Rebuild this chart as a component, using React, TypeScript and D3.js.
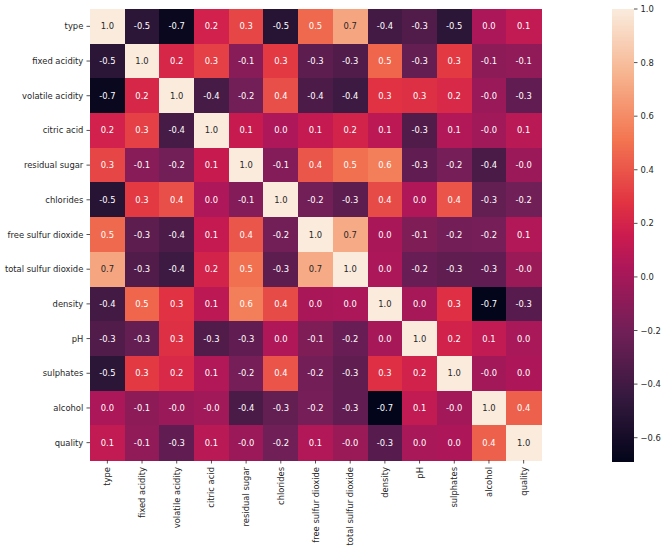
import React from "react";
import * as d3 from "d3";

const labels = [
  "type",
  "fixed acidity",
  "volatile acidity",
  "citric acid",
  "residual sugar",
  "chlorides",
  "free sulfur dioxide",
  "total sulfur dioxide",
  "density",
  "pH",
  "sulphates",
  "alcohol",
  "quality",
];

// correlation matrix rows
const rowType = [1.0, -0.487, -0.653, 0.187, 0.349, -0.513, 0.471, 0.7, -0.391, -0.329, -0.487, 0.033, 0.119];
const rowFixed = [-0.487, 1.0, 0.219, 0.324, -0.112, 0.298, -0.283, -0.329, 0.459, -0.253, 0.3, -0.095, -0.077];
const rowVolatile = [-0.653, 0.219, 1.0, -0.378, -0.196, 0.377, -0.353, -0.414, 0.271, 0.261, 0.226, -0.038, -0.266];
const rowCitric = [0.187, 0.324, -0.378, 1.0, 0.142, 0.039, 0.133, 0.195, 0.096, -0.33, 0.056, -0.01, 0.086];
const rowSugar = [0.349, -0.112, -0.196, 0.142, 1.0, -0.129, 0.403, 0.495, 0.553, -0.267, -0.186, -0.359, -0.037];
const rowChlorides = [-0.513, 0.298, 0.377, 0.039, -0.129, 1.0, -0.195, -0.28, 0.363, 0.045, 0.396, -0.257, -0.201];
const rowFree = [0.471, -0.283, -0.353, 0.133, 0.403, -0.195, 1.0, 0.721, 0.026, -0.146, -0.188, -0.18, 0.055];
const rowTotal = [0.7, -0.329, -0.414, 0.195, 0.495, -0.28, 0.721, 1.0, 0.032, -0.238, -0.275, -0.266, -0.041];
const rowDensity = [-0.391, 0.459, 0.271, 0.096, 0.553, 0.363, 0.026, 0.032, 1.0, 0.012, 0.259, -0.687, -0.306];
const rowPH = [-0.329, -0.253, 0.261, -0.33, -0.267, 0.045, -0.146, -0.238, 0.012, 1.0, 0.192, 0.121, 0.02];
const rowSulphates = [-0.487, 0.3, 0.226, 0.056, -0.186, 0.396, -0.188, -0.275, 0.259, 0.192, 1.0, -0.003, 0.038];
const rowAlcohol = [0.033, -0.095, -0.038, -0.01, -0.359, -0.257, -0.18, -0.266, -0.687, 0.121, -0.003, 1.0, 0.444];
const rowQuality = [0.119, -0.077, -0.266, 0.086, -0.037, -0.201, 0.055, -0.041, -0.306, 0.02, 0.038, 0.444, 1.0];

const matrix = [
  rowType, rowFixed, rowVolatile, rowCitric, rowSugar, rowChlorides, rowFree,
  rowTotal, rowDensity, rowPH, rowSulphates, rowAlcohol, rowQuality,
];

const cbTicks = [-0.6, -0.4, -0.2, 0.0, 0.2, 0.4, 0.6, 0.8, 1.0];

// rocket colormap control points
const rocketPos = [0, 1 / 7, 2 / 7, 3 / 7, 0.5, 4 / 7, 5 / 7, 6 / 7, 1];
const rocketCol = ["#03051a", "#35193e", "#701f57", "#ad1759", "#cb1b4f", "#e13342", "#f37651", "#f6b48f", "#faebdd"];

const W = 666;
const H = 552;
const x0 = 90;
const y0 = 9;
const gridSize = 451;
const vmin = -0.687;
const vmax = 1.0;
const cbX = 612;
const cbW = 22;
const cbTop = 9;
const cbBottom = 461;
const font = "DejaVu Sans, sans-serif";
const fs = 8.4;
const tickLen = 3.5;
const textDark = "#262626";

function luminance(c: string) {
  const rgb = d3.rgb(c);
  const f = (v: number) => {
    const s = v / 255;
    return s <= 0.03928 ? s / 12.92 : Math.pow((s + 0.055) / 1.055, 2.4);
  };
  return 0.2126 * f(rgb.r) + 0.7152 * f(rgb.g) + 0.0722 * f(rgb.b);
}

function fmt(v: number) {
  const s = v.toFixed(1);
  if (v < 0 && s === "0.0") return "-0.0";
  return s;
}

export default function App() {
  const band = d3.scaleBand<number>().domain(d3.range(labels.length)).range([0, gridSize]);
  const norm = d3.scaleLinear().domain([vmin, vmax]).range([0, 1]).clamp(true);
  const rocket = d3
    .scaleLinear<string>()
    .domain(rocketPos)
    .range(rocketCol)
    .interpolate(d3.interpolateRgb);
  const color = (v: number) => rocket(norm(v));
  const cbScale = d3.scaleLinear().domain([vmin, vmax]).range([cbBottom, cbTop]);
  const bw = band.bandwidth();
  const slices = d3.range(0, 300);
  const sliceH = (cbBottom - cbTop) / slices.length;

  return (
    <svg width={W} height={H} style={{ position: "absolute", left: 0, top: 0, background: "#fff" }}>
      <g transform={`translate(${x0},${y0})`}>
        {matrix.map((row, i) =>
          row.map((v, j) => (
            <rect
              key={`r-${i}-${j}`}
              x={band(j)}
              y={band(i)}
              width={bw + 0.6}
              height={bw + 0.6}
              fill={color(v)}
              shapeRendering="crispEdges"
            />
          ))
        )}
        {matrix.map((row, i) =>
          row.map((v, j) => {
            const c = color(v);
            return (
              <text
                key={`t-${i}-${j}`}
                x={(band(j) as number) + bw / 2}
                y={(band(i) as number) + bw / 2}
                textAnchor="middle"
                dominantBaseline="central"
                fontFamily={font}
                fontSize={fs}
                fill={luminance(c) > 0.408 ? textDark : "#ffffff"}
              >
                {fmt(v)}
              </text>
            );
          })
        )}
        {/* y axis ticks */}
        {labels.map((l, i) => {
          const y = (band(i) as number) + bw / 2;
          return (
            <g key={`y-${l}`}>
              <line x1={-tickLen} x2={0} y1={y} y2={y} stroke={textDark} strokeWidth={0.8} />
              <text x={-6.7} y={y} textAnchor="end" dominantBaseline="central" fontFamily={font} fontSize={fs} fill={textDark}>
                {l}
              </text>
            </g>
          );
        })}
        {/* x axis ticks */}
        {labels.map((l, j) => {
          const x = (band(j) as number) + bw / 2;
          return (
            <g key={`x-${l}`}>
              <line x1={x} x2={x} y1={gridSize} y2={gridSize + tickLen} stroke={textDark} strokeWidth={0.8} />
              <text
                transform={`translate(${x},${gridSize + 7}) rotate(-90)`}
                textAnchor="end"
                dominantBaseline="central"
                fontFamily={font}
                fontSize={fs}
                fill={textDark}
              >
                {l}
              </text>
            </g>
          );
        })}
      </g>
      {/* colorbar */}
      <g>
        {slices.map((k) => {
          const yTop = cbBottom - (k + 1) * sliceH;
          const v = cbScale.invert(yTop + sliceH / 2);
          return (
            <rect
              key={`cb-${k}`}
              x={cbX}
              y={yTop}
              width={cbW}
              height={sliceH + 0.5}
              fill={color(v)}
              shapeRendering="crispEdges"
            />
          );
        })}
        {cbTicks.map((t) => {
          const y = cbScale(t);
          return (
            <g key={`cbt-${t}`}>
              <line x1={cbX + cbW} x2={cbX + cbW + tickLen} y1={y} y2={y} stroke={textDark} strokeWidth={0.8} />
              <text x={cbX + cbW + 6.5} y={y} dominantBaseline="central" fontFamily={font} fontSize={fs} fill={textDark}>
                {t < 0 ? "\u2212" + Math.abs(t).toFixed(1) : t.toFixed(1)}
              </text>
            </g>
          );
        })}
      </g>
    </svg>
  );
}
